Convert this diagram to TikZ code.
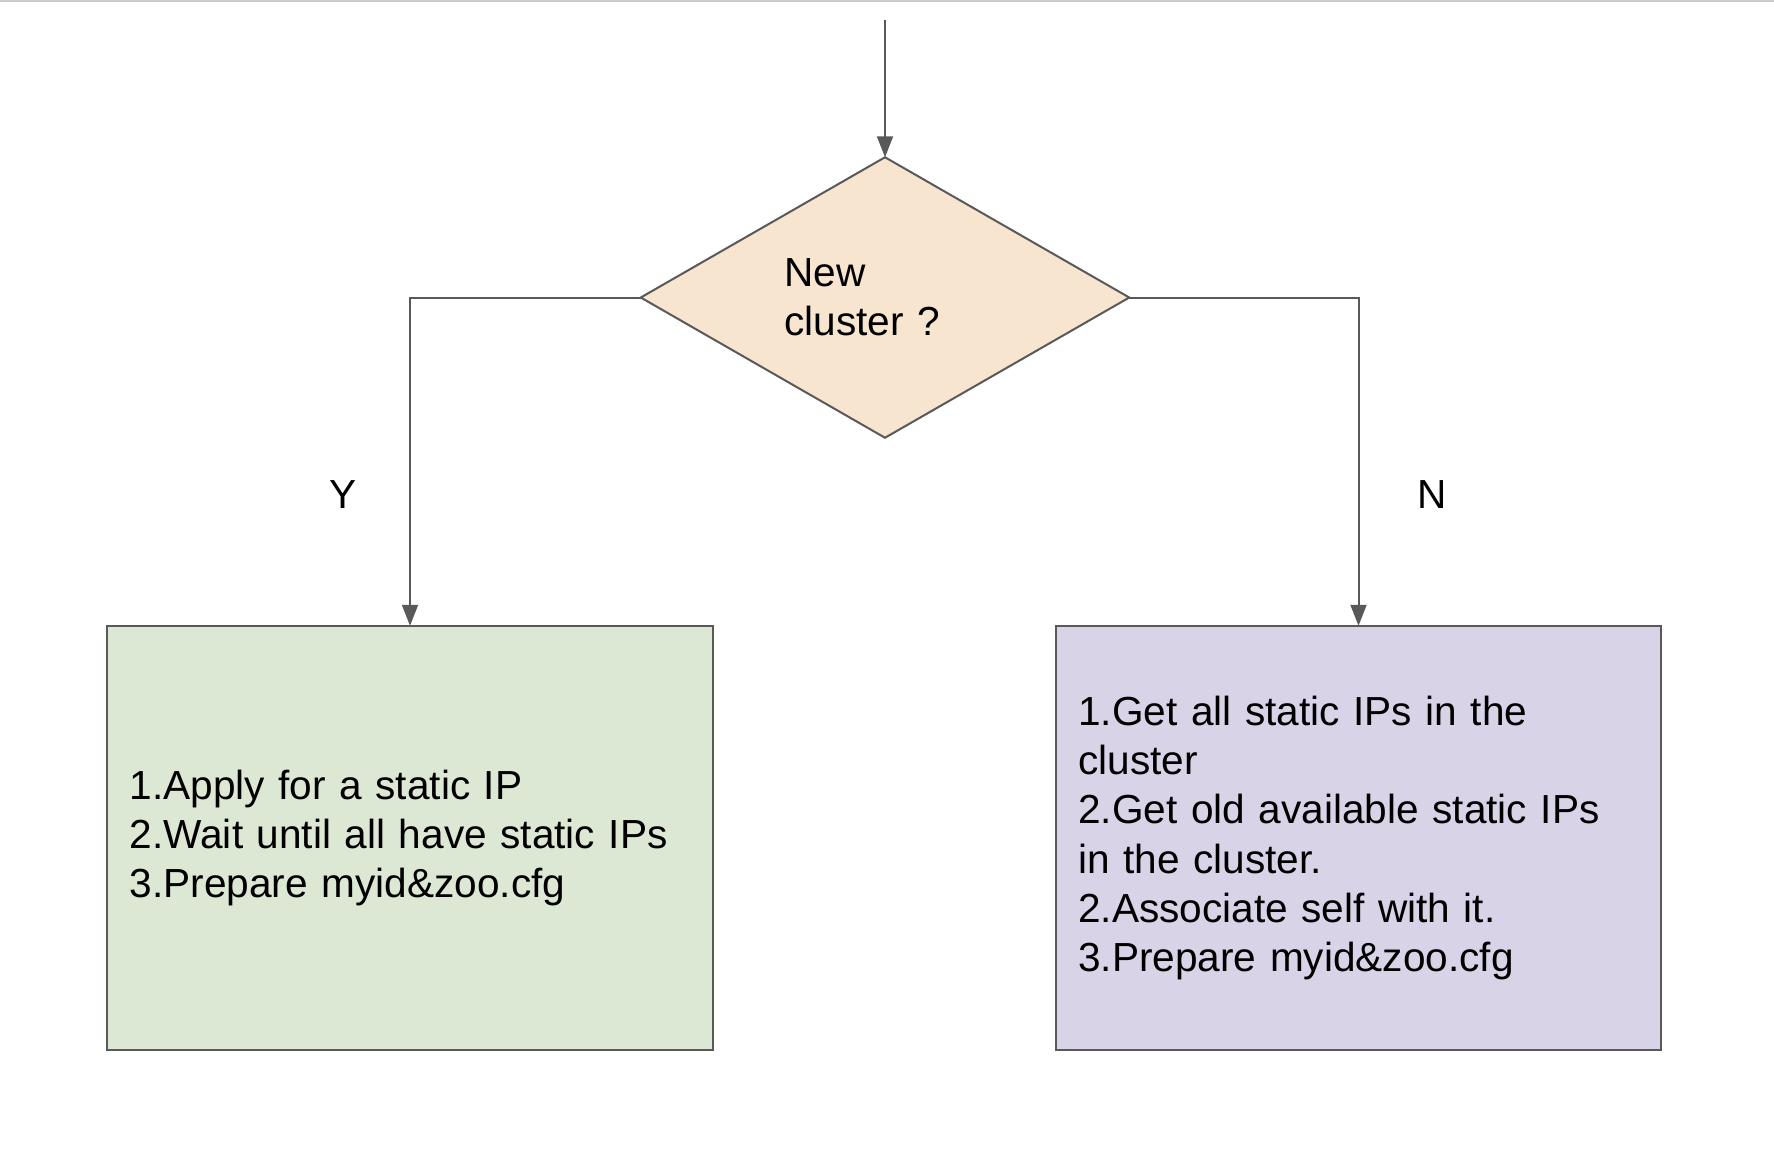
\documentclass[tikz,border=0pt]{standalone}
\usepackage{fontspec}
\setmainfont{Liberation Sans}
\usepackage{xcolor}
\definecolor{flowGray}{RGB}{89, 89, 89}
\definecolor{flowRule}{RGB}{204, 204, 204}
\definecolor{flowPeach}{RGB}{248, 229, 208}
\definecolor{flowGreen}{RGB}{220, 231, 212}
\definecolor{flowLilac}{RGB}{217, 211, 232}
\usepackage{tikz}
\usetikzlibrary{shapes.geometric, arrows.meta, positioning}

\begin{document}
\begin{tikzpicture}[
  line width=0.04cm,
  txt/.style={font=\fontsize{23.1}{28}\selectfont},
  decision/.style={diamond, aspect=1.74, draw=flowGray, fill=flowPeach,
                   minimum width=9.77cm, minimum height=5.61cm,
                   inner sep=0pt, outer sep=0pt, text width=4.03cm,
                   align=left, txt},
  stepbox/.style={rectangle, draw=flowGray, minimum width=12.11cm,
                  minimum height=8.49cm, inner sep=0.45cm, outer sep=0pt,
                  text width=11.21cm, align=left, txt},
  yesbox/.style={stepbox, fill=flowGreen},
  nobox/.style={stepbox, fill=flowLilac},
  arrow/.style={-{Triangle[length=0.42cm, width=0.32cm]}, draw=flowGray},
  lab/.style={inner sep=0pt, txt},
]
  \useasboundingbox (0,0) rectangle (35.48,-23.28);
  \draw[flowRule] (0,-0.02) -- (35.48,-0.02);

  \node[decision] (q) at (17.7,-5.95) {New\\cluster ?};
  \coordinate[above=2.75cm of q.north] (start);

  \node[yesbox, below=3.76cm of q, xshift=-9.5cm] (yes) {1.Apply for a static IP\\
    2.Wait until all have static IPs\\
    3.Prepare myid\&zoo.cfg};

  \node[nobox, below=3.76cm of q, xshift=9.47cm] (no) {1.Get all static IPs in the\\
    cluster\\
    2.Get old available static IPs\\
    in the cluster.\\
    2.Associate self with it.\\
    3.Prepare myid\&zoo.cfg};

  \draw[arrow] (start) -- (q.north);
  \draw[arrow] (q.west) -| node[lab, pos=0.8, left=1.05cm] {Y} (yes.north);
  \draw[arrow] (q.east) -| node[lab, pos=0.8, right=1.15cm] {N} (no.north);
\end{tikzpicture}
\end{document}
